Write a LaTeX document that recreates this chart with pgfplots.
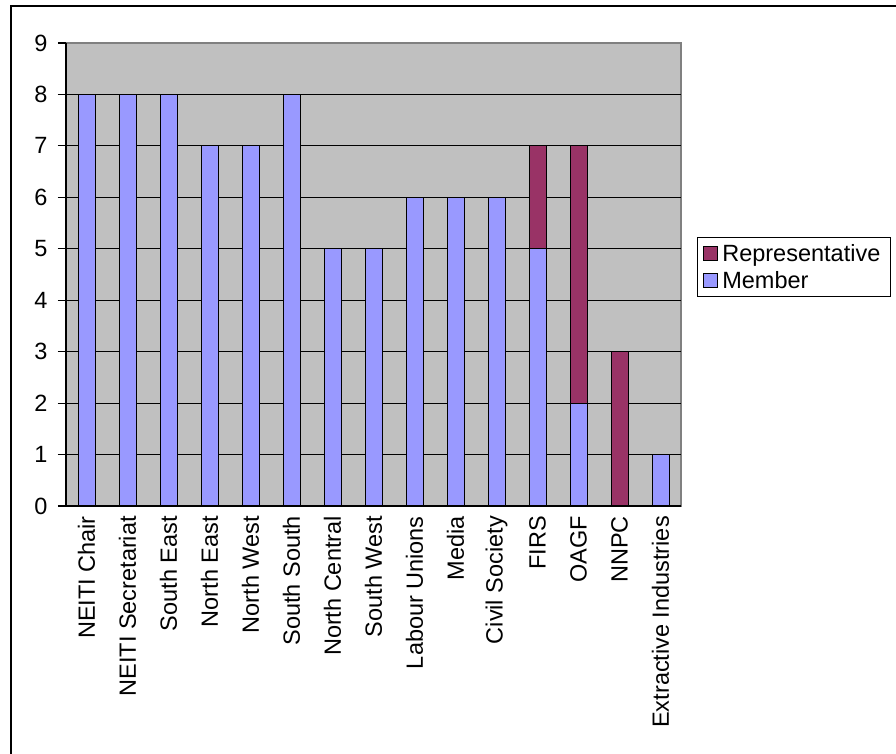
\documentclass[border=0pt]{standalone}
\usepackage{pgfplots}
\pgfplotsset{compat=1.18}
\usepackage{fontspec}
\setmainfont{Liberation Sans}
\definecolor{member}{HTML}{9999FF}
\definecolor{repr}{HTML}{993366}
\definecolor{plotbg}{HTML}{C0C0C0}
\definecolor{bordergray}{HTML}{808080}
\begin{document}
\begin{tikzpicture}[x=1pt,y=1pt]
\useasboundingbox (0,0) rectangle (896,754);
\draw[line width=1.4pt] (11,-2) -- (11,748) -- (898,748);
\begin{axis}[
  at={(66pt,248pt)}, anchor=south west,
  scale only axis, width=615pt, height=463pt,
  ybar stacked, bar width=17pt,
  xmin=-0.5, xmax=14.5, ymin=0, ymax=9,
  axis background/.style={fill=plotbg, draw=bordergray, line width=1.2pt},
  axis x line*=bottom, axis y line*=left,
  axis line style={-, black, line width=1.2pt},
  xtick={0,...,14},
  xticklabels={NEITI Chair,NEITI Secretariat,South East,North East,North West,South South,North Central,South West,Labour Unions,Media,Civil Society,FIRS,OAGF,NNPC,Extractive Industries},
  x tick style={draw=none},
  extra x ticks={-0.5,0.5,...,14.5},
  extra x tick labels={},
  extra x tick style={tick style={draw=black, line width=1.2pt}, major tick length=8pt},
  ytick={0,...,9},
  y tick style={draw=black, line width=1.2pt},
  major tick length=8pt,
  tick align=outside,
  ymajorgrids=false,
  extra y ticks={1,...,8},
  extra y tick labels={},
  extra y tick style={grid=major, major grid style={black, line width=1.2pt}, tick style={draw=none}},
  ticklabel style={font=\fontsize{23.5}{27}\selectfont},
  /pgf/number format/assume math mode=true,
  xticklabel style={rotate=90, anchor=east, inner sep=2pt},
  yticklabel style={xshift=-7pt},
  reverse legend,
  legend style={at={(1.026,0.581)}, anchor=north west, draw=black, line width=1pt,
    font=\fontsize{23.5}{27}\selectfont, row sep=0pt, inner xsep=6pt, inner ysep=3pt,
    nodes={inner ysep=4pt, inner xsep=4pt},
    legend cell align=left},
  legend image code/.code={\draw[#1, line width=0.8pt] (0pt,-7pt) rectangle (14pt,7pt);},
]
\addplot[fill=member, draw=black, line width=1pt] coordinates {
(0,8) (1,8) (2,8) (3,7) (4,7) (5,8) (6,5) (7,5) (8,6) (9,6) (10,6) (11,5) (12,2) (13,0) (14,1)};
\addplot[fill=repr, draw=black, line width=1pt] coordinates {
(0,0) (1,0) (2,0) (3,0) (4,0) (5,0) (6,0) (7,0) (8,0) (9,0) (10,0) (11,2) (12,5) (13,3) (14,0)};
\legend{Member,Representative}
\end{axis}
\end{tikzpicture}
\end{document}
